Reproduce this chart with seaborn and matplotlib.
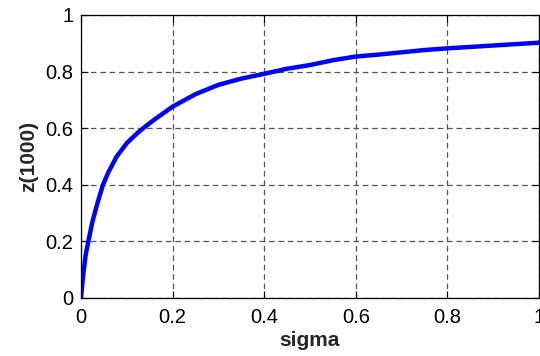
import matplotlib
matplotlib.use("Agg")
import matplotlib.pyplot as plt
import seaborn as sns
import pandas as pd

sigma = [0, 0.004, 0.01, 0.016, 0.025, 0.035, 0.048, 0.06, 0.078, 0.1, 0.12, 0.136,
         0.16, 0.2, 0.25, 0.3, 0.35, 0.4, 0.45, 0.5, 0.55, 0.6, 0.65, 0.7, 0.75, 0.8,
         0.85, 0.9, 0.95, 1.0]
z1000 = [0, 0.07, 0.15, 0.2, 0.27, 0.33, 0.4, 0.445, 0.5, 0.547, 0.578, 0.6,
         0.63, 0.676, 0.72, 0.753, 0.775, 0.792, 0.81, 0.823, 0.84, 0.853, 0.86, 0.868,
         0.876, 0.882, 0.887, 0.892, 0.897, 0.902]
xticks = [0, 0.2, 0.4, 0.6, 0.8, 1]
xticklabels = ["0", "0.2", "0.4", "0.6", "0.8", "1"]
yticks = [0, 0.2, 0.4, 0.6, 0.8, 1]
yticklabels = ["0", "0.2", "0.4", "0.6", "0.8", "1"]

sns.set_style("ticks")
plt.rcParams['font.family'] = ['Liberation Sans', 'DejaVu Sans']

df = pd.DataFrame({"sigma": sigma, "z": z1000})

fig = plt.figure(figsize=(5.4, 3.56), dpi=100)
ax = fig.add_axes([0.15, 0.163, 0.848, 0.795])
sns.lineplot(data=df, x="sigma", y="z", ax=ax, color="#0000ff", linewidth=3.2)

ax.set_xlim(0, 1)
ax.set_ylim(0, 1)
ax.set_xticks(xticks)
ax.set_xticklabels(xticklabels)
ax.set_yticks(yticks)
ax.set_yticklabels(yticklabels)
ax.grid(True, linestyle=(0, (4.5, 3)), color="#555555", linewidth=0.9)
ax.tick_params(direction="in", length=5, width=0.8, labelsize=14.5, top=True, right=True,
               colors="black", pad=5.5)
ax.tick_params(axis="x", pad=7)
for s in ax.spines.values():
    s.set_visible(True)
    s.set_color("black")
    s.set_linewidth(0.9)
ax.set_xlabel("sigma", fontsize=15, fontweight="bold", labelpad=3)
ax.set_ylabel("z(1000)", fontsize=15, fontweight="bold", labelpad=5)

fig.savefig("out.png", dpi=100)
